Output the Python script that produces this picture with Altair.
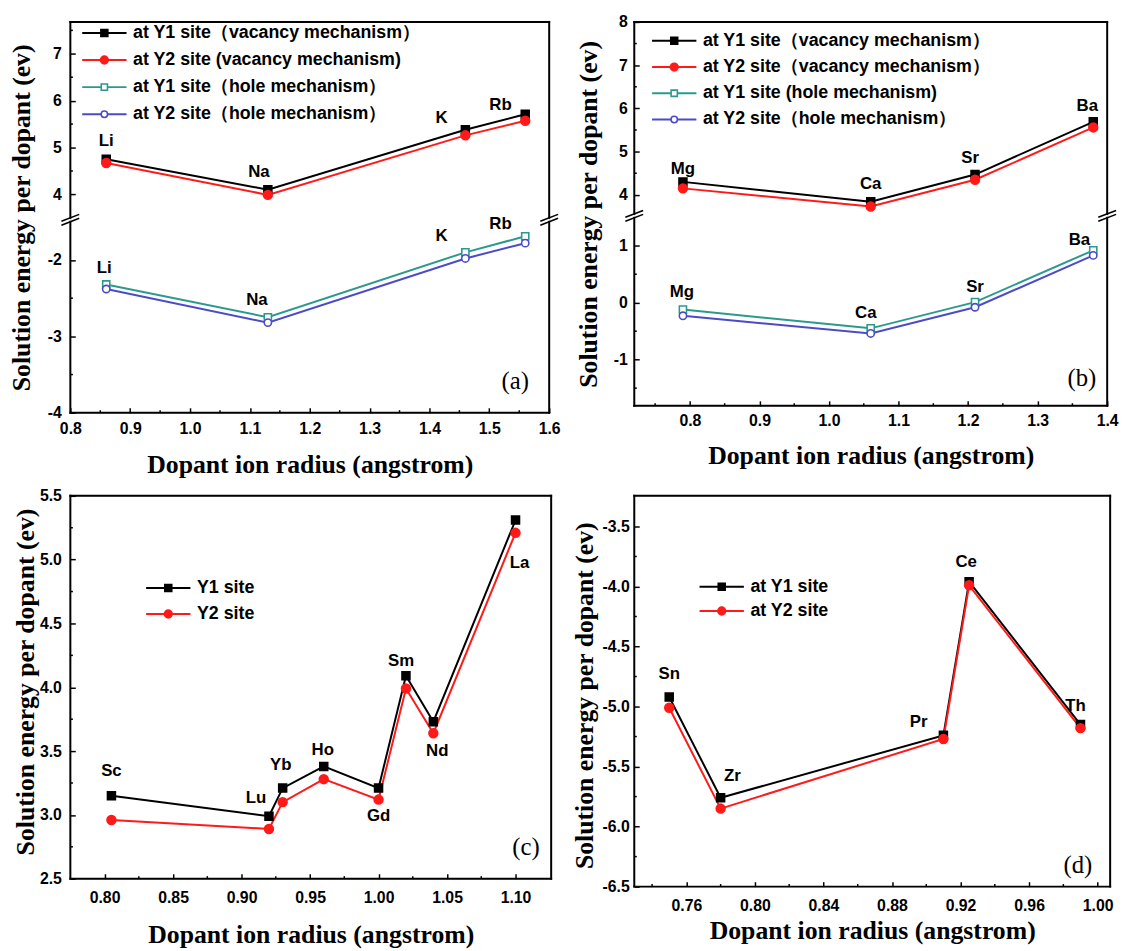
import altair as alt
import pandas as pd

# ---------------- values ----------------
a_radius = [0.86, 1.13, 1.46, 1.56]
a_ions = ["Li", "Na", "K", "Rb"]
a_y1_vacancy = [4.75, 4.10, 5.38, 5.71]
a_y2_vacancy = [4.67, 3.99, 5.26, 5.57]
a_y1_hole = [-2.32, -2.75, -1.90, -1.69]
a_y2_hole = [-2.38, -2.82, -1.98, -1.78]
a_series = ["at Y1 site（vacancy mechanism）", "at Y2 site (vacancy mechanism)",
            "at Y1 site（hole mechanism）", "at Y2 site（hole mechanism）"]

b_radius = [0.79, 1.06, 1.21, 1.38]
b_ions = ["Mg", "Ca", "Sr", "Ba"]
b_y1_vacancy = [4.30, 3.84, 4.47, 5.69]
b_y2_vacancy = [4.15, 3.73, 4.35, 5.56]
b_y1_hole = [-0.12, -0.45, 0.01, 0.92]
b_y2_hole = [-0.23, -0.54, -0.08, 0.83]
b_series = ["at Y1 site（vacancy mechanism）", "at Y2 site（vacancy mechanism）",
            "at Y1 site (hole mechanism)", "at Y2 site（hole mechanism）"]

c_radius = [0.805, 0.92, 0.93, 0.96, 1.00, 1.02, 1.04, 1.10]
c_ions = ["Sc", "Lu", "Yb", "Ho", "Gd", "Sm", "Nd", "La"]
c_y1 = [3.15, 2.99, 3.21, 3.38, 3.21, 4.09, 3.73, 5.31]
c_y2 = [2.96, 2.89, 3.10, 3.28, 3.12, 3.99, 3.64, 5.21]
c_series = ["Y1 site", "Y2 site"]

d_radius = [0.75, 0.78, 0.91, 0.925, 0.99]
d_ions = ["Sn", "Zr", "Pr", "Ce", "Th"]
d_y1 = [-4.92, -5.76, -5.24, -3.96, -5.15]
d_y2 = [-5.01, -5.85, -5.27, -3.99, -5.18]
d_series = ["at Y1 site", "at Y2 site"]

# tick values (major labelled, minor unlabelled)
a_x_major = [0.8, 0.9, 1.0, 1.1, 1.2, 1.3, 1.4, 1.5, 1.6]
a_x_minor = [0.85, 0.95, 1.05, 1.15, 1.25, 1.35, 1.45, 1.55]
a_y_major = [-4, -3, -2, 4, 5, 6, 7]
a_y_minor = [-3.5, -2.5, 4.5, 5.5, 6.5, 7.5]

b_x_major = [0.8, 0.9, 1.0, 1.1, 1.2, 1.3, 1.4]
b_x_minor = [0.75, 0.85, 0.95, 1.05, 1.15, 1.25, 1.35]
b_y_major = [-1, 0, 1, 4, 5, 6, 7, 8]
b_y_minor = [-1.5, -0.5, 0.5, 4.5, 5.5, 6.5, 7.5]

c_x_major = [0.8, 0.85, 0.9, 0.95, 1.0, 1.05, 1.1]
c_x_minor = [0.825, 0.875, 0.925, 0.975, 1.025, 1.075]
c_y_major = [2.5, 3.0, 3.5, 4.0, 4.5, 5.0, 5.5]
c_y_minor = [2.75, 3.25, 3.75, 4.25, 4.75, 5.25]

d_x_major = [0.76, 0.80, 0.84, 0.88, 0.92, 0.96, 1.00]
d_x_minor = [0.74, 0.78, 0.82, 0.86, 0.90, 0.94, 0.98]
d_y_major = [-6.5, -6.0, -5.5, -5.0, -4.5, -4.0, -3.5]
d_y_minor = [-6.25, -5.75, -5.25, -4.75, -4.25, -3.75]

X_TITLE = "Dopant ion radius (angstrom)"
Y_TITLE = "Solution energy per dopant (ev)"

# ---------------- styling ----------------
SANS = "Liberation Sans"
SERIF = "Liberation Serif"
COLORS = ["#000000", "#ff1a1a", "#2b9a8c", "#4b4bc8"]
FILLS = ["#000000", "#ff1a1a", "#ffffff", "#ffffff"]
KEYS = ["s0", "s1", "s2", "s3"]
# marker outlines (unit box, scaled by sqrt(size)/2)
MARKER_PATHS = [
    "M-0.5,-0.5H0.5V0.5H-0.5Z",
    "M-0.56,0A0.56,0.56,0,1,0,0.56,0A0.56,0.56,0,1,0,-0.56,0Z",
    "M-0.45,-0.45H0.45V0.45H-0.45Z",
    "M-0.46,0A0.46,0.46,0,1,0,0.46,0A0.46,0.46,0,1,0,-0.46,0Z",
]
LINE_GLYPH = "M-3.2,0H3.2"
TICK = 5
MINOR = 2.6

# label offsets (pixels) relative to the Y1 point
a_off = {"Li": (0, -18), "Na": (-9, -18), "K": (-24, -12), "Rb": (-25, -9)}
a_off_hole = {"Li": (-2, -17), "Na": (-11, -17), "K": (-24, -16), "Rb": (-25, -12)}
b_off = {"Mg": (0, -13), "Ca": (0, -18), "Sr": (-5, -17), "Ba": (-6, -16)}
b_off_hole = {"Mg": (-1, -18), "Ca": (-5, -15), "Sr": (0, -15), "Ba": (-14, -10)}
c_off = {"Sc": (0, -25), "Lu": (-13, -18), "Yb": (-2, -23), "Ho": (-1, -17),
         "Gd": (0, 28), "Sm": (-5, -15), "Nd": (4, 30), "La": (4, 43)}
d_off = {"Sn": (0, -23), "Zr": (12, -22), "Pr": (-25, -13), "Ce": (-3, -20), "Th": (-5, -19)}

ONE = alt.Data(values=[{"k": 0}])


def make_axis(major, fmt, pad, orient, title, title_x, title_y):
    return alt.Axis(
        values=major, format=fmt, orient=orient,
        labelExpr="replace(datum.label, '\u2212', '-')",
        offset=-TICK, tickSize=TICK, tickWidth=1.5, tickColor="black",
        domain=False, grid=False, labelPadding=pad,
        labelFont=SANS, labelFontSize=16, labelFontWeight="bold", labelColor="black",
        labelOverlap=False, labelFlush=False,
        title=title, titleFont=SERIF, titleFontSize=26, titleFontWeight="bold",
        titleColor="black", titleX=title_x, titleY=title_y,
        titleBaseline="alphabetic", titleAlign="center")


def minor_ticks(x_minor, y_minor, xenc, yenc, h):
    """Short inward ticks drawn through the panel's own scales."""
    xs = alt.Chart(pd.DataFrame({"r": x_minor})).mark_rule(color="black", strokeWidth=1.5).encode(
        x=xenc, y=alt.value(h - MINOR), y2=alt.value(h))
    ys = alt.Chart(pd.DataFrame({"E": y_minor})).mark_rule(color="black", strokeWidth=1.5).encode(
        y=yenc, x=alt.value(0), x2=alt.value(MINOR))
    return [xs, ys]


def legends(lx, ly, row_pad):
    common = dict(title=None, orient="none", legendX=lx, legendY=ly, padding=0,
                  rowPadding=row_pad, symbolSize=196, symbolOffset=0, labelLimit=600,
                  labelFont=SANS, labelFontSize=18, labelFontWeight="bold")
    line_leg = alt.Legend(symbolType=LINE_GLYPH, symbolStrokeWidth=2, labelOffset=20,
                          labelColor="black", **common)
    # marker legend sits on top of the line legend; its own labels are invisible
    mark_leg = alt.Legend(symbolStrokeWidth=1.6, labelOffset=20, labelOpacity=0, **common)
    return line_leg, mark_leg


def series_layers(radius, values_list, names, xenc, yenc, leg):
    n = len(names)
    line_leg, mark_leg = leg
    color = alt.Color("series:N", scale=alt.Scale(domain=names, range=COLORS[:n]), legend=line_leg)
    shape = alt.Shape("key:N", scale=alt.Scale(domain=KEYS[:n], range=MARKER_PATHS[:n]), legend=mark_leg)
    fill = alt.Fill("key:N", scale=alt.Scale(domain=KEYS[:n], range=FILLS[:n]), legend=mark_leg)
    stroke = alt.Stroke("key:N", scale=alt.Scale(domain=KEYS[:n], range=COLORS[:n]), legend=mark_leg)
    df = pd.concat([pd.DataFrame({"r": radius, "E": values_list[i], "series": names[i], "key": KEYS[i]})
                    for i in range(n)], ignore_index=True)
    lines = alt.Chart(df).mark_line(strokeWidth=2).encode(x=xenc, y=yenc, color=color)
    points = alt.Chart(df).mark_point(opacity=1, size=256, strokeWidth=1.6).encode(
        x=xenc, y=yenc, shape=shape, fill=fill, stroke=stroke)
    return [lines, points]


def label_layers(radius, ions, values, offsets, xenc, yenc):
    out = []
    for r, ion, v in zip(radius, ions, values):
        dx, dy = offsets[ion]
        df = pd.DataFrame({"r": [r], "E": [v], "ion": [ion]})
        out.append(alt.Chart(df).mark_text(font=SANS, fontSize=17, fontWeight="bold", color="black",
                                           dx=dx, dy=dy).encode(x=xenc, y=yenc, text="ion:N"))
    return out


def rule(x, x2, y, y2, width=2, cap="square"):
    enc = dict(x=alt.value(x), y=alt.value(y))
    if x2 is not None:
        enc["x2"] = alt.value(x2)
    if y2 is not None:
        enc["y2"] = alt.value(y2)
    return alt.Chart(ONE).mark_rule(color="black", strokeWidth=width, strokeCap=cap).encode(**enc)


def full_frame(w, h):
    return [rule(0, w, 0, None), rule(0, w, h, None), rule(0, None, 0, h), rule(w, None, 0, h)]


def broken_frame(w, h, h_up, gap):
    out = [rule(0, w, 0, None), rule(0, w, h, None)]
    for xc in (0, w):
        out.append(rule(xc, None, 0, h_up))
        out.append(rule(xc, None, h_up + gap, h))
        for yc in (h_up, h_up + gap):
            out.append(rule(xc - 9, xc + 9, yc + 3.5, yc - 3.5, width=1.6, cap="butt"))
    return out


def letter(txt, x, y):
    return alt.Chart(ONE).mark_text(text=txt, font=SERIF, fontSize=25, align="right",
                                    baseline="alphabetic", color="black").encode(
        x=alt.value(x), y=alt.value(y))


def sc(domain, rng=None):
    if rng is None:
        return alt.Scale(domain=domain, nice=False, zero=False)
    return alt.Scale(domain=domain, range=rng, nice=False, zero=False)


# ---------------- panel (a): broken y axis via a piecewise scale ----------------
AW, AH, AH_UP, A_GAP = 484, 395, 198, 4
a_xe = alt.X("r:Q", scale=sc([0.8, 1.6]),
             axis=make_axis(a_x_major, ".1f", 8, "bottom", X_TITLE, AW / 2, 65))
a_ye = alt.Y("E:Q", scale=sc([-4.0, -1.5, 3.5, 7.68], [AH, AH_UP + A_GAP, AH_UP, 0]),
             axis=make_axis(a_y_major, "d", 9, "left", Y_TITLE, -46, AH / 2))
panel_a = alt.layer(
    *minor_ticks(a_x_minor, a_y_minor, a_xe, a_ye, AH),
    *series_layers(a_radius, [a_y1_vacancy, a_y2_vacancy, a_y1_hole, a_y2_hole], a_series,
                   a_xe, a_ye, legends(25.4, 2.1, 9.4)),
    *label_layers(a_radius, a_ions, a_y1_vacancy, a_off, a_xe, a_ye),
    *label_layers(a_radius, a_ions, a_y1_hole, a_off_hole, a_xe, a_ye),
    *broken_frame(AW, AH, AH_UP, A_GAP),
    letter("(a)", AW - 20.5, AH - 24),
).properties(width=AW, height=AH)

# ---------------- panel (b) ----------------
BW, BH, BH_UP, B_GAP = 478, 388, 194, 4
b_xe = alt.X("r:Q", scale=sc([0.72, 1.40]),
             axis=make_axis(b_x_major, ".1f", 7, "bottom", X_TITLE, BW / 2, 63))
b_ye = alt.Y("E:Q", scale=sc([-1.81, 1.49, 3.56, 8.0], [BH, BH_UP + B_GAP, BH_UP, 0]),
             axis=make_axis(b_y_major, "d", 7, "left", Y_TITLE, -43.5, BH / 2))
panel_b = alt.layer(
    *minor_ticks(b_x_minor, b_y_minor, b_xe, b_ye, BH),
    *series_layers(b_radius, [b_y1_vacancy, b_y2_vacancy, b_y1_hole, b_y2_hole], b_series,
                   b_xe, b_ye, legends(31.4, 10.1, 8.5)),
    *label_layers(b_radius, b_ions, b_y1_vacancy, b_off, b_xe, b_ye),
    *label_layers(b_radius, b_ions, b_y1_hole, b_off_hole, b_xe, b_ye),
    *broken_frame(BW, BH, BH_UP, B_GAP),
    letter("(b)", BW - 11, BH - 20),
).properties(width=BW, height=BH)

# ---------------- panel (c) ----------------
CW, CH = 486, 387
c_xe = alt.X("r:Q", scale=sc([0.775, 1.126]),
             axis=make_axis(c_x_major, ".2f", 11, "bottom", X_TITLE, CW / 2, 69))
c_ye = alt.Y("E:Q", scale=sc([2.5, 5.5]),
             axis=make_axis(c_y_major, ".1f", 9, "left", Y_TITLE, -42.5, 187.7))
panel_c = alt.layer(
    *minor_ticks(c_x_minor, c_y_minor, c_xe, c_ye, CH),
    *series_layers(c_radius, [c_y1, c_y2], c_series, c_xe, c_ye, legends(90, 84.2, 8.2)),
    *label_layers(c_radius, c_ions, c_y1, c_off, c_xe, c_ye),
    *full_frame(CW, CH), letter("(c)", CW - 11.5, CH - 24),
).properties(width=CW, height=CH)

# ---------------- panel (d) ----------------
DW, DH = 481, 395
d_xe = alt.X("r:Q", scale=sc([0.7296, 1.0073]),
             axis=make_axis(d_x_major, ".2f", 11, "bottom", X_TITLE, DW / 2, 57))
d_ye = alt.Y("E:Q", scale=sc([-6.5, -3.245]),
             axis=make_axis(d_y_major, ".1f", 5, "left", Y_TITLE, -47.5, 201.5))
panel_d = alt.layer(
    *minor_ticks(d_x_minor, d_y_minor, d_xe, d_ye, DH),
    *series_layers(d_radius, [d_y1, d_y2], d_series, d_xe, d_ye, legends(79.4, 82.8, 6.6)),
    *label_layers(d_radius, d_ions, d_y1, d_off, d_xe, d_ye),
    *full_frame(DW, DH), letter("(d)", DW - 18, DH - 14),
).properties(width=DW, height=DH)

# ---------------- layout ----------------
chart = alt.concat(panel_a, panel_b, panel_c, panel_d, columns=2, spacing=84, bounds="flush").resolve_scale(
    x="independent", y="independent", color="independent", shape="independent",
    fill="independent", stroke="independent"
).properties(padding={"left": 0, "top": 0, "right": 4, "bottom": 0}
).configure_view(stroke=None).configure(font=SANS)

chart.save("out.html", embed_options={"renderer": "svg", "actions": False})
